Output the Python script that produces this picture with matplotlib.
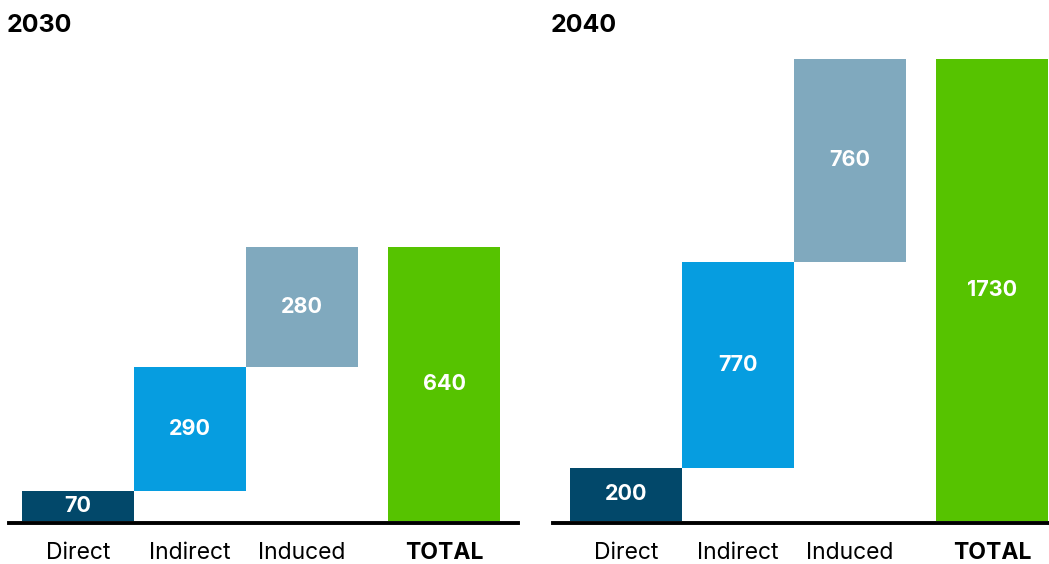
import matplotlib
matplotlib.use("Agg")
import matplotlib.pyplot as plt

plt.rcParams['font.family'] = ['Inter', 'DejaVu Sans']

categories = ["Direct", "Indirect", "Induced", "TOTAL"]
years = ["2030", "2040"]
values_2030 = [70, 290, 280]
values_2040 = [200, 770, 760]
colors = ["#02486a", "#069de0", "#80a9be", "#56c300"]

W, H = 1049, 564
fig = plt.figure(figsize=(W / 100, H / 100), dpi=100)

def px_axes(x0, x1, ytop, ybot):
    return fig.add_axes([x0 / W, 1 - ybot / H, (x1 - x0) / W, (ybot - ytop) / H])

positions = [0, 1, 2, 3.268]

panels = [
    (years[0], values_2030, 9, 518, 7),
    (years[1], values_2040, 553, 1049, 551),
]

for year, vals, x0, x1, tx in panels:
    ax = px_axes(x0, x1, 59, 523)
    total = sum(vals)
    bottoms = [0, vals[0], vals[0] + vals[1], 0]
    heights = list(vals) + [total]
    top_px = 247 if year == "2030" else 59
    upp = total / (521 - top_px)  # units per pixel
    ax.set_ylim(-2 * upp, -2 * upp + (523 - 59) * upp)
    bar_center0 = 78 if year == "2030" else 626
    ax.set_xlim((x0 - bar_center0) / 112, (x1 - bar_center0) / 112)
    for i in range(4):
        ax.bar(positions[i], heights[i], bottom=bottoms[i], width=1.0,
               color=colors[i], linewidth=0, zorder=2)
        ax.text(positions[i], bottoms[i] + heights[i] / 2, f"{heights[i]}",
                ha="center", va="center", color="white", fontsize=15.5,
                fontweight="bold", zorder=3)
    for s in ["top", "left", "right"]:
        ax.spines[s].set_visible(False)
    ax.spines["bottom"].set_linewidth(2.8)
    ax.spines["bottom"].set_color("black")
    ax.set_yticks([])
    ax.set_xticks(positions)
    ax.set_xticklabels(categories, fontsize=16.5)
    ax.get_xticklabels()[3].set_fontweight("bold")
    ax.tick_params(axis="x", length=0, pad=14)
    fig.text(tx / W, 1 - 26 / H, year, ha="left", va="center",
             fontsize=18, fontweight="bold", color="black")

fig.savefig("out.png", dpi=100)
